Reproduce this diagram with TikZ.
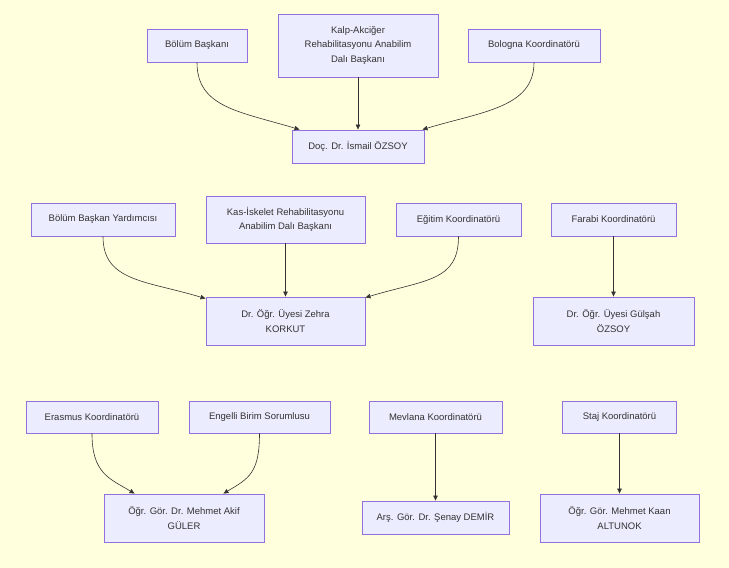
\documentclass[tikz,border=0pt]{standalone}
\usepackage{fontspec}
\setmainfont{Liberation Sans}
\usetikzlibrary{arrows.meta}
\definecolor{bgc}{HTML}{FFFFDE}
\definecolor{nodefill}{HTML}{ECECFF}
\definecolor{nodeline}{HTML}{9370DB}
\definecolor{edgec}{HTML}{333333}
\begin{document}
\begin{tikzpicture}[x=1pt,y=-1pt,
  box/.style={draw=nodeline, fill=nodefill, line width=0.9pt, align=center, inner sep=0pt,
    font=\fontsize{9.5}{14.5}\selectfont, text=edgec},
  edge/.style={draw=edgec, line width=0.6pt, -{Triangle[length=5pt,width=4.5pt]}}]
\fill[bgc] (0,0) rectangle (729,568);
\useasboundingbox (0,0) rectangle (729,568);
% row 1
\node[box, minimum width=100pt, minimum height=33pt] (bb) at (197,45.5) {Bölüm Başkanı};
\node[box, minimum width=160pt, minimum height=63pt] (kalp) at (358,45.5) {Kalp-Akciğer\\Rehabilitasyonu Anabilim\\Dalı Başkanı};
\node[box, minimum width=132pt, minimum height=33pt] (bol) at (534,45.5) {Bologna Koordinatörü};
\node[box, minimum width=132pt, minimum height=33pt] (doc) at (358,146.5) {Doç. Dr. İsmail ÖZSOY};
\draw[edge] (bb.south) .. controls +(0,45) and +(-60,-18) .. ([xshift=8pt]doc.north west);
\draw[edge] (kalp.south) -- (doc.north);
\draw[edge] (bol.south) .. controls +(0,45) and +(60,-18) .. ([xshift=-2pt]doc.north east);
% row 2
\node[box, minimum width=144pt, minimum height=33pt] (byard) at (103,219.5) {Bölüm Başkan Yardımcısı};
\node[box, minimum width=159pt, minimum height=47pt] (kas) at (285.5,219.5) {Kas-İskelet Rehabilitasyonu\\Anabilim Dalı Başkanı};
\node[box, minimum width=125pt, minimum height=33pt] (egit) at (458.5,219.5) {Eğitim Koordinatörü};
\node[box, minimum width=159pt, minimum height=48pt] (zehra) at (285.5,321) {Dr. Öğr. Üyesi Zehra\\KORKUT};
\node[box, minimum width=125pt, minimum height=33pt] (far) at (613.5,219.5) {Farabi Koordinatörü};
\node[box, minimum width=161pt, minimum height=48pt] (gul) at (613.5,321) {Dr. Öğr. Üyesi Gülşah\\ÖZSOY};
\draw[edge] (byard.south) .. controls +(0,45) and +(-60,-18) .. ([yshift=-2pt]zehra.north west);
\draw[edge] (kas.south) -- (zehra.north);
\draw[edge] (egit.south) .. controls +(0,45) and +(60,-18) .. ([yshift=-1pt]zehra.north east);
\draw[edge] (far.south) -- (gul.north);
% row 3
\node[box, minimum width=132pt, minimum height=32pt] (eras) at (92,417) {Erasmus Koordinatörü};
\node[box, minimum width=141pt, minimum height=32pt] (eng) at (259.5,417) {Engelli Birim Sorumlusu};
\node[box, minimum width=160pt, minimum height=48pt] (akif) at (184,518) {Öğr. Gör. Dr. Mehmet Akif\\GÜLER};
\node[box, minimum width=133pt, minimum height=32pt] (mev) at (435.5,417) {Mevlana Koordinatörü};
\node[box, minimum width=147pt, minimum height=33pt] (senay) at (435.5,517.5) {Arş. Gör. Dr. Şenay DEMİR};
\node[box, minimum width=114pt, minimum height=32pt] (staj) at (619.5,417) {Staj Koordinatörü};
\node[box, minimum width=159pt, minimum height=48pt] (kaan) at (619.5,518) {Öğr. Gör. Mehmet Kaan\\ALTUNOK};
\draw[edge] (eras.south) .. controls +(0,40) and +(-25,-15) .. ([xshift=31pt]akif.north west);
\draw[edge] (eng.south) .. controls +(0,40) and +(25,-15) .. ([xshift=-41pt]akif.north east);
\draw[edge] (mev.south) -- (senay.north);
\draw[edge] (staj.south) -- (kaan.north);
\end{tikzpicture}
\end{document}
